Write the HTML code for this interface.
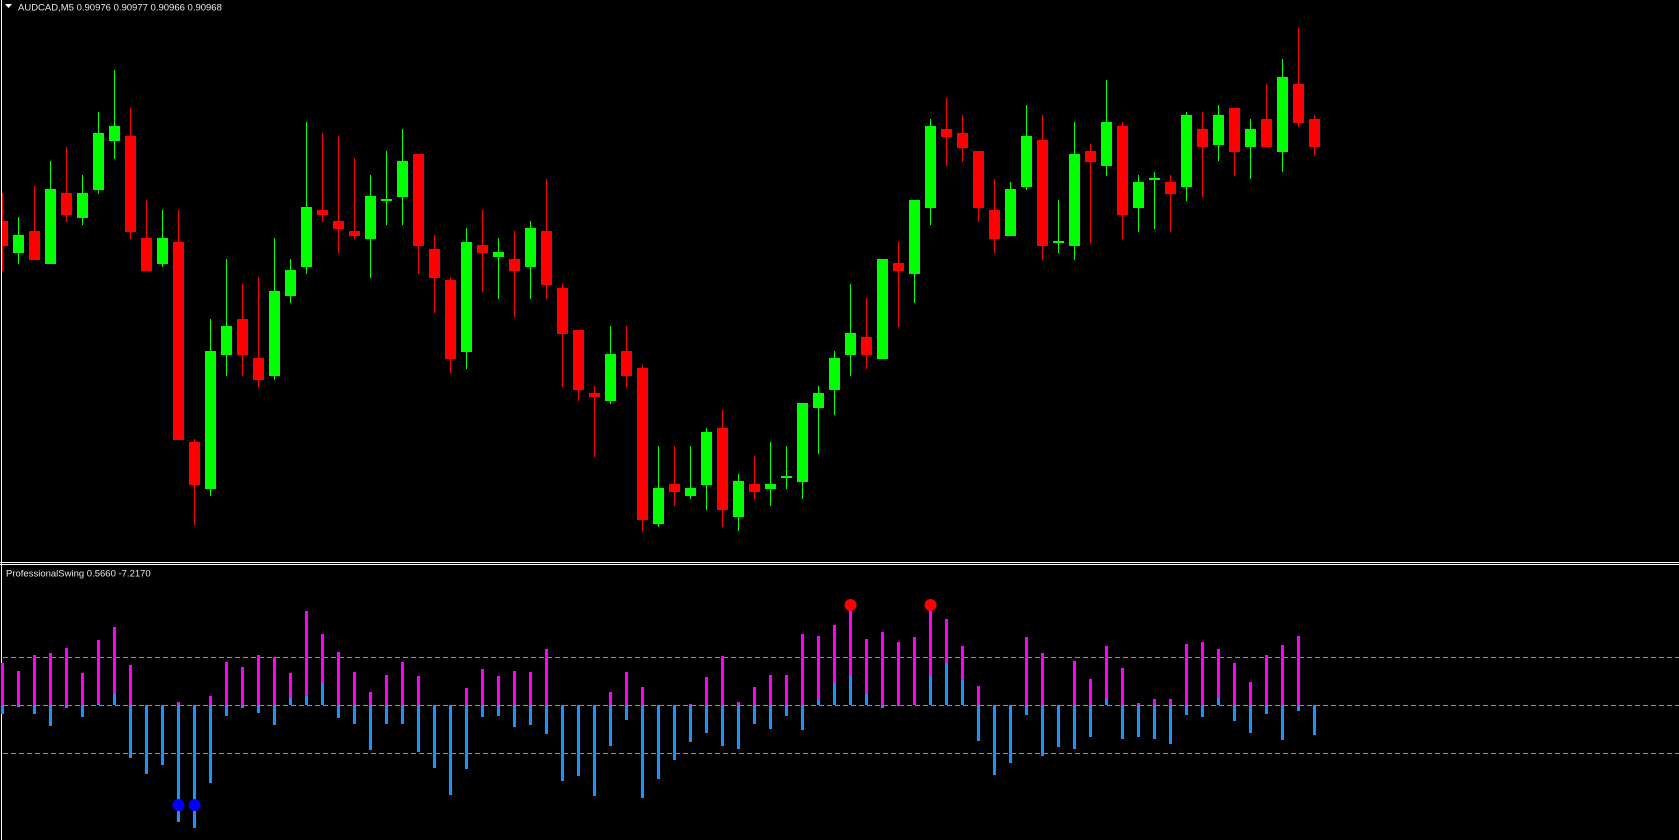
<!DOCTYPE html>
<html><head><meta charset="utf-8"><style>
html,body{margin:0;padding:0;background:#000;width:1679px;height:840px;overflow:hidden}
svg{display:block}
text{font-family:"Liberation Sans",sans-serif;font-size:9.5px;fill:#e8e8e8}
</style></head><body>
<svg id="s" width="1679" height="840" xmlns="http://www.w3.org/2000/svg">
<rect width="1679" height="840" fill="#000"/>
<g id="c"></g>
<line x1="1.5" y1="0" x2="1.5" y2="840" stroke="#fff" stroke-width="1"/>
<line x1="0" y1="562.5" x2="1679" y2="562.5" stroke="#fff" stroke-width="1"/>
<line x1="0" y1="564.5" x2="1679" y2="564.5" stroke="#fff" stroke-width="1"/>
<line x1="3" y1="657.5" x2="1679" y2="657.5" stroke="#6a96c8" stroke-dasharray="5 3"/>
<line x1="3" y1="705.5" x2="1679" y2="705.5" stroke="#6a96c8" stroke-dasharray="5 3"/>
<line x1="3" y1="753.5" x2="1679" y2="753.5" stroke="#6a96c8" stroke-dasharray="5 3"/>
<g id="h"></g>
<polygon points="5,4 12,4 8.5,8" fill="#fff"/>
<text x="18" y="10.5">AUDCAD,M5  0.90976 0.90977 0.90966 0.90968</text>
<text x="6" y="576.5">ProfessionalSwing 0.5660 -7.2170</text>
</svg>
<script>
var C=[
"r 221 246 193 271","g 235 253 217 264","r 231 260 186 260","g 189 264 161 264","r 193 215 147 222","g 193 218 175 225","g 133 190 112 194","g 126 141 70 159","r 136 232 108 239","r 238 271 200 271",
"g 238 264 210 267","r 242 440 210 440","r 442 485 439 525","g 351 489 319 496","g 326 355 259 376","r 319 355 284 376","r 358 380 277 387","g 291 376 238 380","g 270 296 259 303","g 207 267 122 274",
"r 210 215 133 222","r 221 229 136 253","r 231 236 158 239","g 196 239 175 278","g 199 201 151 225","g 161 197 129 225","r 154 246 154 274","r 249 278 235 313","r 280 359 277 373","g 242 352 228 369",
"r 245 253 210 292","g 252 257 238 299","r 259 271 231 317","g 228 267 221 299","r 231 285 179 299","r 288 334 284 387","r 330 390 330 401","r 393 397 386 457","g 354 401 326 404","r 351 376 326 387",
"r 368 520 365 531","g 488 524 446 527","r 484 492 446 506","g 488 496 446 499","g 432 485 428 510","r 428 510 410 527","g 481 517 474 531","r 484 492 456 499","g 484 489 442 506","g 476 478 446 489",
"g 403 482 403 499","g 393 408 386 454","g 358 390 351 415","g 333 355 284 376","r 337 355 298 369","g 259 359 259 359","r 263 271 242 327","g 200 274 200 303","g 126 208 119 225","r 129 137 98 166",
"r 133 148 115 162","r 151 208 151 222","r 210 239 179 253","g 189 236 182 236","g 136 187 105 190","r 140 246 115 260","g 241 243 200 253","g 154 246 122 260","r 151 162 144 243","g 122 166 80 176",
"r 126 215 122 239","g 182 208 175 232","g 178 180 172 229","r 182 194 175 232","g 115 187 112 201","r 129 147 112 197","g 115 145 105 161","r 108 152 108 176","g 129 147 119 179","r 119 147 84 147",
"g 77 152 59 172","r 84 123 28 127","r 119 147 115 155"];
var H=[[663,714],[671,707],[655,714],[653,726],[648,708],[673,717],[640,704],[627,694],[665,758],[0,774],
[0,765],[702,822],[0,828],[696,783],[662,716],[667,708],[655,713],[657,725],[673,698],[611,696],
[634,683],[652,718],[672,724],[692,750],[675,724],[662,724],[676,752],[0,768],[0,795],[688,769],
[669,717],[676,716],[671,727],[672,725],[649,734],[0,781],[0,776],[0,796],[692,746],[672,720],
[687,798],[0,779],[0,760],[704,742],[677,733],[656,746],[702,749],[687,724],[675,729],[675,716],
[634,730],[636,700],[625,683],[610,676],[639,694],[632,708],[642,706],[637,705],[610,676],[619,663],
[646,680],[686,741],[0,775],[0,763],[637,715],[653,756],[0,747],[661,749],[679,737],[646,699],
[668,739],[703,737],[699,739],[699,744],[644,715],[642,717],[649,698],[663,721],[682,733],[655,714],
[645,740],[636,711],[0,735]];
var NS="http://www.w3.org/2000/svg";
function el(p,t,a){var e=document.createElementNS(NS,t);for(var k in a)e.setAttribute(k,a[k]);p.appendChild(e);return e;}
var cg=document.getElementById('c'),hg=document.getElementById('h');
C.forEach(function(s,i){var d=s.split(' '),col=d[0]=='g'?'#00ff00':'#ff0000';
var bt=+d[1],bb=+d[2],wt=+d[3],wb=+d[4],cx=2.3+16*i,x=Math.round(cx);
el(cg,'rect',{x:x,y:wt,width:1,height:Math.max(1,wb-wt),fill:col});
var bx=Math.max(2,x-5);el(cg,'rect',{x:bx,y:bt,width:x+6-bx,height:Math.max(1,bb-bt),fill:col});});
var Z=705;
H.forEach(function(v,i){var x=Math.round(2.3+16*i)-1;
if(v[0])el(hg,'rect',{x:x,y:v[0],width:3,height:Z-v[0],fill:'#ff00ff'});
var b=v[1];if(b>Z)el(hg,'rect',{x:x,y:Z,width:3,height:b-Z,fill:'#1e90ff'});
else el(hg,'rect',{x:x,y:b,width:3,height:Z-b,fill:'#1e90ff'});});
[[11,805,'#0000ff'],[12,805,'#0000ff'],[53,605,'#ff0000'],[58,605,'#ff0000']].forEach(function(d){
el(hg,'circle',{cx:Math.round(2.3+16*d[0])+0.5,cy:d[1],r:6,fill:d[2]});});
</script>
</body></html>
